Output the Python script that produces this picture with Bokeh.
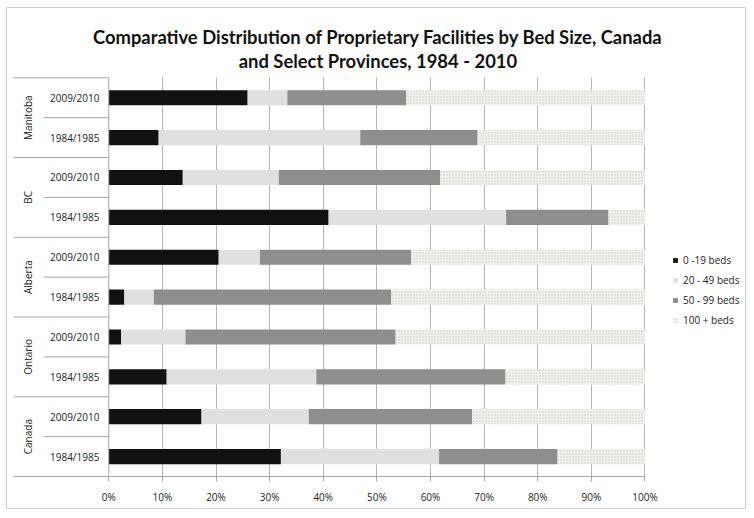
from bokeh.plotting import figure
from bokeh.models import (Range1d, FixedTicker, NumeralTickFormatter, Legend, LegendItem,
                          ColumnDataSource)
from bokeh.core.properties import value
from bokeh.embed import file_html
from bokeh.resources import INLINE
import math

# ---------------- data ----------------
groups = ["Canada", "Ontario", "Alberta", "BC", "Manitoba"]
periods = ["1984/1985", "2009/2010"]
series_names = ["0 -19 beds", "20 - 49 beds", "50 - 99 beds", "100 + beds"]
title_lines = ["Comparative Distribution of Proprietary Facilities by Bed Size, Canada",
               "and Select Provinces, 1984 - 2010"]
# rows bottom-to-top: Canada 84, Canada 09, Ontario 84, Ontario 09, Alberta 84, ...
beds_0_19 = [32.1, 17.3, 10.8, 2.3, 2.9, 20.5, 41.0, 13.8, 9.3, 25.9]
beds_20_49 = [29.5, 20.0, 27.9, 12.0, 5.5, 7.7, 33.1, 17.9, 37.6, 7.4]
beds_50_99 = [22.1, 30.5, 35.3, 39.2, 44.3, 28.2, 19.1, 30.1, 21.9, 22.2]
beds_100 = [16.3, 32.2, 26.0, 46.5, 47.3, 43.6, 6.8, 38.2, 31.2, 44.5]
tick_values = [0, 0.1, 0.2, 0.3, 0.4, 0.5, 0.6, 0.7, 0.8, 0.9, 1.0]

colors = ["#111111", "#e0e0e0", "#8e8e8e", "#f1f1ef"]
FONT = "Open Sans"
FS = "10px"
LINE = "#a6a6a6"

n_rows = len(groups) * len(periods)
row_y = [i + 0.5 for i in range(n_rows)]
row_period = [periods[i % 2] for i in range(n_rows)]

src = ColumnDataSource(dict(
    y=row_y,
    s0=[v / 100 for v in beds_0_19],
    s1=[v / 100 for v in beds_20_49],
    s2=[v / 100 for v in beds_50_99],
    s3=[v / 100 for v in beds_100],
))

label_left = -0.1777
inner_left = -0.1216
right_end = 1.1875      # room on the right of the frame for the legend
top_end = n_rows + 1.738  # room above the rows for the title

p = figure(width=740, height=502, output_backend="svg", toolbar_location=None,
           x_range=Range1d(label_left, right_end), y_range=Range1d(0, top_end),
           min_border_left=6, min_border_right=2, min_border_bottom=34,
           min_border_top=0,
           outline_line_color=None, background_fill_color="white",
           border_fill_color="white",
           styles={"border": "1px solid #cfcfcf", "margin-left": "6px", "margin-top": "7px"})

# title (two lines, centred)
p.text(x=[0.502, 0.502], y=[n_rows + 1.015, n_rows + 0.428], text=title_lines,
       text_align="center", text_baseline="alphabetic", text_font=value("Lato"),
       text_font_size="18.4px", text_font_style="bold", text_color="#111111")

renderers = p.hbar_stack(["s0", "s1", "s2", "s3"], y="y", height=0.38, source=src,
                         color=colors, line_color=None)
renderers[3].glyph.hatch_pattern = "dot"
renderers[3].glyph.hatch_color = "#c3c3be"
renderers[3].glyph.hatch_scale = 3
renderers[3].glyph.hatch_alpha = 0.85

# x axis
xa = p.xaxis[0]
xa.ticker = FixedTicker(ticks=tick_values)
xa.formatter = NumeralTickFormatter(format="0%")
xa.bounds = (label_left, 1.0)
xa.axis_line_color = LINE
xa.major_tick_line_color = LINE
xa.major_tick_out = 5
xa.major_tick_in = 0
xa.minor_tick_line_color = None
xa.major_label_standoff = 8
xa.major_label_text_font = FONT
xa.major_label_text_font_size = FS
xa.major_label_text_color = "#222222"

p.yaxis.visible = False
p.ygrid.visible = False
p.xgrid.ticker = FixedTicker(ticks=tick_values[1:])
p.xgrid.grid_line_color = "#b5b5b5"
p.xgrid.cross_bounds = (0, n_rows)

# vertical axis line at 0
p.segment(x0=[0], y0=[0], x1=[0], y1=[n_rows], line_color=LINE, line_width=1)

# label table lines
sep_x0, sep_y = [], []
for i in range(1, n_rows + 1):
    sep_y.append(i)
    sep_x0.append(label_left if i % 2 == 0 else inner_left)
p.segment(x0=sep_x0, y0=sep_y, x1=[0] * len(sep_y), y1=sep_y, line_color=LINE,
          line_width=1)

# period labels
p.text(x=[-0.0636] * n_rows, y=row_y, text=row_period, text_align="center",
       text_baseline="middle", text_font=value(FONT), text_font_size=FS,
       text_color="#222222")
# group labels
p.text(x=[-0.1515] * len(groups), y=[2 * g + 1 for g in range(len(groups))], text=groups,
       angle=math.pi / 2, text_align="center", text_baseline="middle",
       text_font=value(FONT), text_font_size=FS, text_color="#222222")

legend = Legend(items=[LegendItem(label=series_names[k], renderers=[renderers[k]])
                       for k in range(4)],
                location=(659, 149), padding=0, margin=0, spacing=6,
                glyph_width=6, glyph_height=6, label_standoff=5,
                label_text_font=FONT, label_text_font_size=FS,
                label_text_color="#222222", border_line_color=None,
                background_fill_alpha=0)
p.add_layout(legend, "center")

open("out.html", "w").write(file_html(p, INLINE))
